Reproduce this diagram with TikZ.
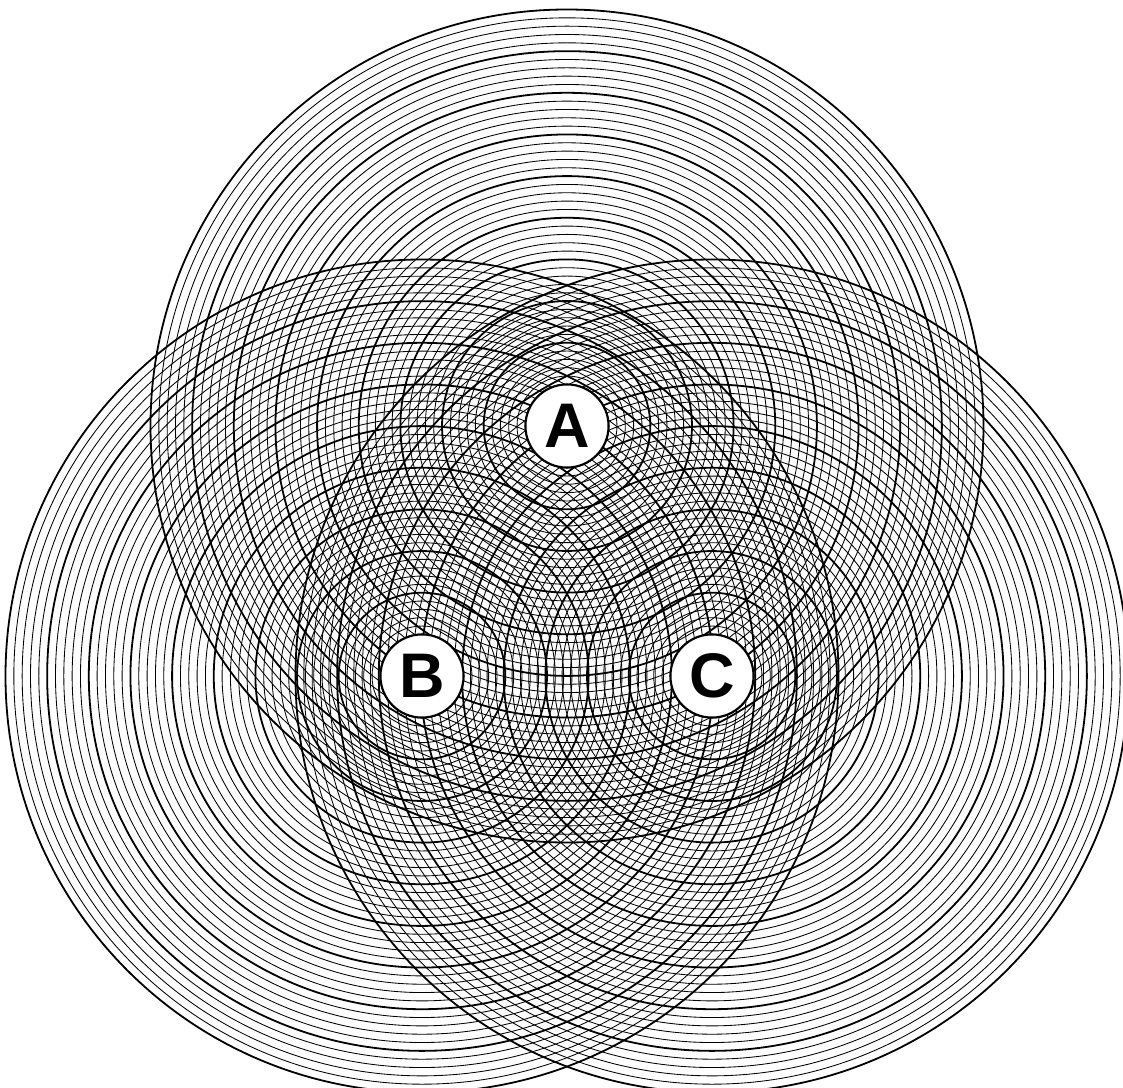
\documentclass[tikz,border=0pt]{standalone}
\usepackage{fontspec}
\setmainfont{Liberation Sans}
\tikzset{
  thinring/.style={line width=0.85pt, black},
  thickring/.style={line width=1.8pt, black},
  lbl/.style={circle, draw, line width=2pt, fill=white, minimum size=83pt, inner sep=0pt,
    font=\fontsize{63}{63}\selectfont\bfseries}
}
\begin{document}
\begin{tikzpicture}[x=1pt,y=-1pt]
\useasboundingbox (0,0) rectangle (1123,1087);
\begin{scope}
\clip (0,0) rectangle (1123,1087);
\foreach \cx/\cy in {567/426, 422/676, 712/676} {
  \foreach \k in {1,...,50} {
    \pgfmathtruncatemacro\m{mod(\k,5)}
    \ifnum\m=0
      \draw[thickring] (\cx,\cy) circle[radius=\k*8.33pt];
    \else
      \draw[thinring] (\cx,\cy) circle[radius=\k*8.33pt];
    \fi
  }
}
\end{scope}
\node[lbl] (A) at (567,426) {A};
\node[lbl] (B) at (422,676) {B};
\node[lbl] (C) at (712,676) {C};
\end{tikzpicture}
\end{document}
